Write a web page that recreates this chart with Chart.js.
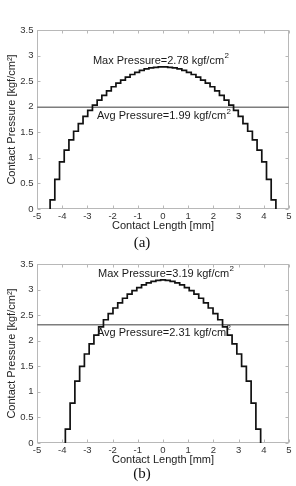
<!DOCTYPE html>
<html><head><meta charset="utf-8">
<script src="https://cdn.jsdelivr.net/npm/chart.js@4"></script>
<style>
html,body{margin:0;padding:0;background:#fff;width:296px;height:486px;overflow:hidden}
.c{position:absolute;left:0;width:296px;height:234px}
.cap{position:absolute;width:296px;text-align:center;font-family:"Liberation Serif","DejaVu Serif",serif;font-size:15px;line-height:17px;color:#111}
</style></head><body>
<div class="c" style="top:0"><canvas id="ca"></canvas></div>
<div class="c" style="top:234px"><canvas id="cb"></canvas></div>
<div class="cap" style="top:234px;left:-6px">(a)</div>
<div class="cap" style="top:465px;left:-6px">(b)</div>
<script>
// ---- data ----
const xTickValues = [-5, -4, -3, -2, -1, 0, 1, 2, 3, 4, 5];
const yTickValues = [0, 0.5, 1, 1.5, 2, 2.5, 3, 3.5];
const xTitle = 'Contact Length [mm]';
const yTitle = 'Contact Pressure [kgf/cm\u00B2]';

// chart (a): bin edges [mm] and contact pressure per bin [kgf/cm2]
const edgesA = [-4.48, -4.293, -4.107, -3.92, -3.733, -3.547, -3.36, -3.173, -2.987, -2.8, -2.613, -2.427,
  -2.24, -2.053, -1.867, -1.68, -1.493, -1.307, -1.12, -0.933, -0.747, -0.56, -0.373, -0.187, 0,
  0.187, 0.373, 0.56, 0.747, 0.933, 1.12, 1.307, 1.493, 1.68, 1.867, 2.053, 2.24,
  2.427, 2.613, 2.8, 2.987, 3.173, 3.36, 3.547, 3.733, 3.92, 4.107, 4.293, 4.48];
const pressureA = [0.18, 0.58, 0.92, 1.15, 1.35, 1.52, 1.67, 1.81, 1.93, 2.03, 2.13, 2.22,
  2.31, 2.39, 2.46, 2.52, 2.58, 2.63, 2.67, 2.71, 2.74, 2.76, 2.77, 2.78,
  2.78, 2.77, 2.76, 2.74, 2.71, 2.67, 2.63, 2.58, 2.52, 2.46, 2.39, 2.31,
  2.22, 2.13, 2.03, 1.93, 1.81, 1.67, 1.52, 1.35, 1.15, 0.92, 0.58, 0.18];
const maxA = 2.78;
const avgA = 1.99;

// chart (b)
const edgesB = [-3.875, -3.686, -3.497, -3.308, -3.119, -2.93, -2.741, -2.552, -2.363, -2.174, -1.985,
  -1.796, -1.607, -1.418, -1.229, -1.04, -0.851, -0.662, -0.473, -0.284, -0.095,
  0.095, 0.284, 0.473, 0.662, 0.851, 1.04, 1.229, 1.418, 1.607, 1.796,
  1.985, 2.174, 2.363, 2.552, 2.741, 2.93, 3.119, 3.308, 3.497, 3.686, 3.875];
const pressureB = [0.27, 0.78, 1.21, 1.50, 1.74, 1.94, 2.11, 2.27, 2.41, 2.53, 2.64, 2.74, 2.83, 2.91,
  2.98, 3.04, 3.09, 3.13, 3.16, 3.18, 3.19, 3.18, 3.16, 3.13, 3.09, 3.04, 2.98, 2.91,
  2.83, 2.74, 2.64, 2.53, 2.41, 2.27, 2.11, 1.94, 1.74, 1.50, 1.21, 0.78, 0.27];
const maxB = 3.19;
const avgB = 2.31;

// ---- drawing ----
const FONT = '"Liberation Sans", Arial, Helvetica, sans-serif';

function stepPoints(edges, vals) {
  const pts = [{x: edges[0], y: 0}];
  for (let i = 0; i < vals.length; i++) {
    pts.push({x: edges[i], y: vals[i]});
    pts.push({x: edges[i + 1], y: vals[i]});
  }
  pts.push({x: edges[edges.length - 1], y: 0});
  return pts;
}

const framePlugin = {
  id: 'frame',
  beforeDatasetsDraw(chart) {
    const {ctx, chartArea: a, scales: {x, y}} = chart;
    ctx.save();
    ctx.strokeStyle = '#b8b8b8';
    ctx.lineWidth = 1;
    const L = Math.round(a.left) + 0.5, R = Math.round(a.right) - 0.5;
    const T = Math.round(a.top) + 0.5, B = Math.round(a.bottom) - 0.5;
    ctx.strokeRect(L, T, R - L, B - T);
    ctx.beginPath();
    const tl = 3;
    xTickValues.forEach(v => {
      const px = Math.round(x.getPixelForValue(v)) + 0.5;
      ctx.moveTo(px, B); ctx.lineTo(px, B - tl);
      ctx.moveTo(px, T); ctx.lineTo(px, T + tl);
    });
    yTickValues.forEach(v => {
      const py = Math.round(y.getPixelForValue(v)) + 0.5;
      ctx.moveTo(L, py); ctx.lineTo(L + tl, py);
      ctx.moveTo(R, py); ctx.lineTo(R - tl, py);
    });
    ctx.stroke();
    ctx.restore();
  },
  afterDatasetsDraw(chart, args, opts) {
    const {ctx, scales: {x, y}} = chart;
    ctx.save();
    ctx.fillStyle = '#1a1a1a';
    ctx.textBaseline = 'middle';
    ctx.textAlign = 'left';
    (opts.notes || []).forEach(n => {
      const px = x.getPixelForValue(n.x), py = y.getPixelForValue(n.y);
      ctx.font = '11px ' + FONT;
      ctx.fillText(n.text, px, py);
      const w = ctx.measureText(n.text).width;
      ctx.font = '8px ' + FONT;
      ctx.fillText(n.sup, px + w + 0.5, py - 5);
    });
    ctx.restore();
  }
};

function makeChart(id, edges, vals, maxV, avgV, notes) {
  return new Chart(document.getElementById(id), {
    type: 'line',
    data: {
      datasets: [
        {data: stepPoints(edges, vals), borderColor: '#111', borderWidth: 1.7, pointRadius: 0, tension: 0, fill: false},
        {data: [{x: xTickValues[0], y: avgV}, {x: xTickValues[xTickValues.length - 1], y: avgV}],
         borderColor: '#7d7d7d', borderWidth: 1.5, pointRadius: 0, fill: false}
      ]
    },
    options: {
      responsive: true, maintainAspectRatio: false, animation: false,
      layout: {padding: {top: 30, right: 7, left: 0, bottom: 0}},
      plugins: {legend: {display: false}, tooltip: {enabled: false},
        frame: {notes: notes}},
      scales: {
        x: {type: 'linear', min: -5, max: 5,
          afterBuildTicks: s => { s.ticks = xTickValues.map(v => ({value: v})); },
          afterFit: s => { s.height = 25; },
          grid: {display: false, drawTicks: false}, border: {display: false},
          ticks: {color: '#333', font: {family: FONT, size: 9.5}, padding: 2, maxRotation: 0, autoSkip: false,
            callback: v => String(v)},
          title: {display: true, text: xTitle, color: '#222', font: {family: FONT, size: 11}, padding: {top: 0, bottom: 1.5}}
        },
        y: {type: 'linear', min: 0, max: 3.5,
          afterBuildTicks: s => { s.ticks = yTickValues.map(v => ({value: v})); },
          afterFit: s => { s.width = 37; },
          grid: {display: false, drawTicks: false}, border: {display: false},
          ticks: {color: '#333', font: {family: FONT, size: 9.5}, padding: 3.5, autoSkip: false,
            callback: v => String(v)},
          title: {display: true, text: yTitle, color: '#222', font: {family: FONT, size: 11}, padding: {top: 5.5, bottom: 0}}
        }
      }
    },
    plugins: [framePlugin]
  });
}

makeChart('ca', edgesA, pressureA, maxA, avgA, [
  {text: 'Max Pressure=' + maxA.toFixed(2) + ' kgf/cm', sup: '2', x: -2.78, y: 2.9},
  {text: 'Avg Pressure=' + avgA.toFixed(2) + ' kgf/cm', sup: '2', x: -2.62, y: 1.81}
]);
makeChart('cb', edgesB, pressureB, maxB, avgB, [
  {text: 'Max Pressure=' + maxB.toFixed(2) + ' kgf/cm', sup: '2', x: -2.58, y: 3.31},
  {text: 'Avg Pressure=' + avgB.toFixed(2) + ' kgf/cm', sup: '2', x: -2.62, y: 2.16}
]);
</script>
</body></html>
